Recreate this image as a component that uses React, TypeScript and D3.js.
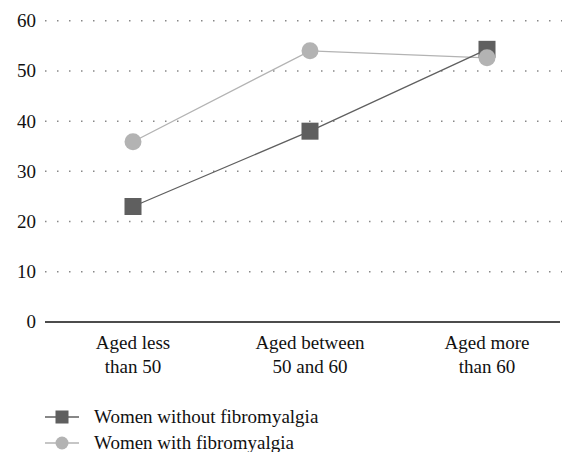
import React from "react";
import * as d3 from "d3";

const categories = ["Aged less|than 50", "Aged between|50 and 60", "Aged more|than 60"];
const withoutFibro = [23, 38, 54.3];
const withFibro = [35.9, 54, 52.6];
const yTicks = [0, 10, 20, 30, 40, 50, 60];
const legendLabels = ["Women without fibromyalgia", "Women with fibromyalgia"];

const FONT = "'Liberation Serif', 'DejaVu Serif', serif";
const FS = 19;

export default function App() {
  const x = d3.scalePoint<string>().domain(categories).range([133, 487]);
  const y = d3.scaleLinear().domain([0, 60]).range([322, 20.7]);
  const line = d3
    .line<number>()
    .x((_, i) => x(categories[i])!)
    .y((d) => y(d));
  const darkC = "#5f5f5f";
  const lightC = "#b3b3b3";
  const s = 17;
  return (
    <svg
      width={570}
      height={452}
      style={{ position: "absolute", left: 0, top: 0, background: "#fff" }}
      fontFamily={FONT}
    >
      {yTicks.map((t) => (
        <g key={t}>
          {t > 0 && (
            <line
              x1={45}
              x2={562}
              y1={y(t)}
              y2={y(t)}
              stroke="#888"
              strokeWidth={1.5}
              strokeDasharray="1.5,10.5"
            />
          )}
          <text x={36} y={y(t)} dy="0.34em" textAnchor="end" fontSize={FS} fill="#111">
            {t}
          </text>
        </g>
      ))}
      <line x1={45} x2={560} y1={y(0)} y2={y(0)} stroke="#111" strokeWidth={1.5} />
      {categories.map((c) => {
        const [l1, l2] = c.split("|");
        return (
          <text key={c} x={x(c)} textAnchor="middle" fontSize={FS} fill="#111">
            <tspan x={x(c)} y={349}>{l1}</tspan>
            <tspan x={x(c)} y={373}>{l2}</tspan>
          </text>
        );
      })}
      <path d={line(withFibro)!} fill="none" stroke={lightC} strokeWidth={1.3} />
      <path d={line(withoutFibro)!} fill="none" stroke={darkC} strokeWidth={1.3} />
      {withoutFibro.map((v, i) => (
        <rect
          key={"s" + i}
          x={x(categories[i])! - s / 2}
          y={y(v) - s / 2}
          width={s}
          height={s}
          fill={darkC}
        />
      ))}
      {withFibro.map((v, i) => (
        <circle key={"c" + i} cx={x(categories[i])!} cy={y(v)} r={8.5} fill={lightC} />
      ))}
      <g>
        <line x1={45} x2={79} y1={417} y2={417} stroke={darkC} strokeWidth={1.3} />
        <rect x={62 - 6.5} y={417 - 6.5} width={13} height={13} fill={darkC} />
        <text x={94} y={417} dy="0.34em" fontSize={FS} fill="#111">
          {legendLabels[0]}
        </text>
        <line x1={45} x2={79} y1={443} y2={443} stroke={lightC} strokeWidth={1.3} />
        <circle cx={62} cy={443} r={6.5} fill={lightC} />
        <text x={94} y={443} dy="0.34em" fontSize={FS} fill="#111">
          {legendLabels[1]}
        </text>
      </g>
    </svg>
  );
}
